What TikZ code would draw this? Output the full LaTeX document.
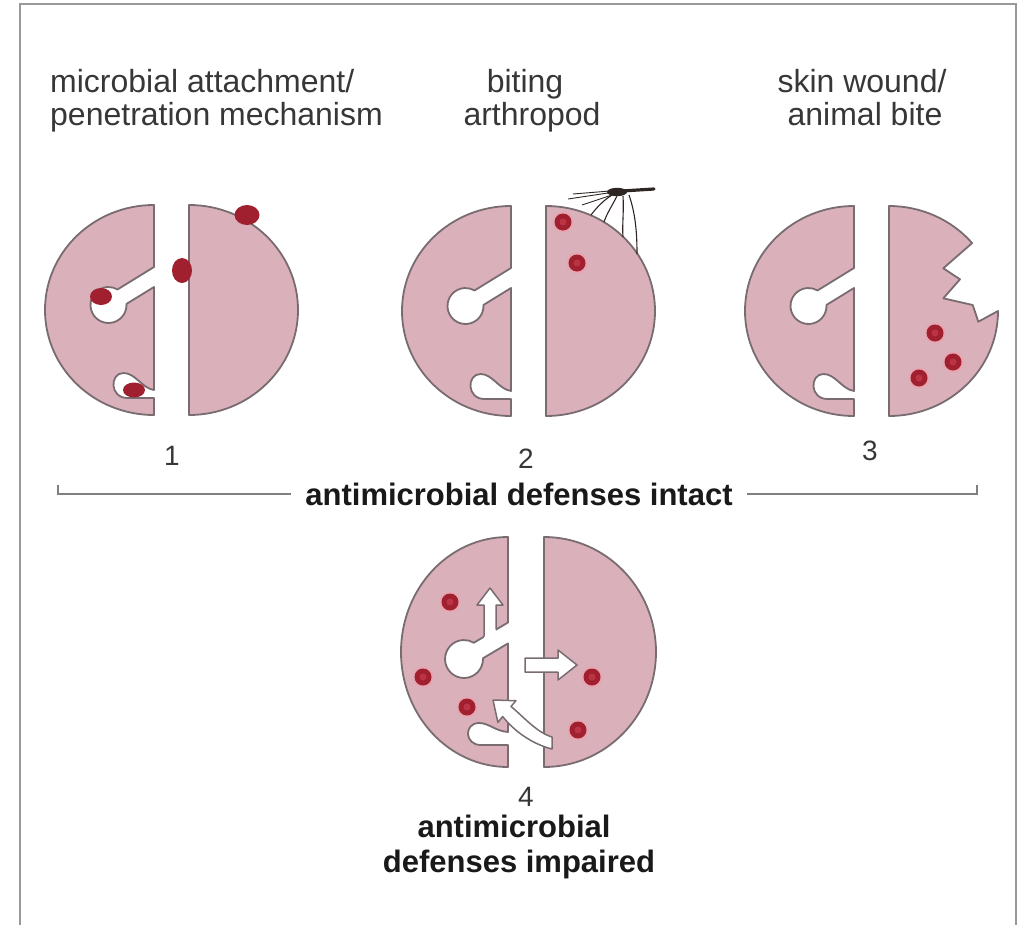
\documentclass[tikz,border=0pt]{standalone}
\usepackage{fontspec}
\setmainfont{Liberation Sans}

\definecolor{skinpink}{RGB}{218,176,187}
\definecolor{rimgray}{RGB}{120,108,113}
\definecolor{germred}{RGB}{160,32,48}
\definecolor{germcore}{RGB}{188,52,68}
\definecolor{germhalo}{RGB}{230,165,176}
\definecolor{inkgray}{RGB}{55,55,55}
\definecolor{insect}{RGB}{45,38,35}

\tikzset{
  skin/.style={fill=skinpink, draw=rimgray, line width=1.8, line join=round},
  openarrow/.style={fill=white, draw=rimgray, line width=1.5, line join=round},
  caption/.style={font=\fontsize{32}{36}\selectfont, text=inkgray, inner sep=0},
  heading/.style={font=\fontsize{31}{36}\selectfont\bfseries, text=black!90, inner sep=0},
  number/.style={font=\fontsize{28}{32}\selectfont, text=inkgray, inner sep=0},
  bracket/.style={draw=gray, line width=1.4},
}

\begin{document}
\begin{tikzpicture}[x=1pt, y=-1pt]
    \useasboundingbox (0,0) rectangle (1025,924);
    % Outer frame
    \draw[black!40, line width=2.4] (20,930) -- (20,4) -- (1016,4) -- (1016,930);

    % Left halves of the three intact tissues, with keyhole and notch
    \foreach \cx/\cy in {171.5/310, 528.5/311, 871.5/311}
        \draw[skin, shift={(\cx,\cy)}] (-17.5,-105)
            arc[start angle=-90, end angle=-270, x radius=109, y radius=105]
            -- (-17.5,88) -- (-44,88) .. controls (-62,88) and (-62,63) .. (-48,63)
            .. controls (-36,63) and (-30,78) .. (-17.5,80)
            -- (-17.5,-23) -- (-45.03,-6.07) arc[start angle=-3.4, end angle=300.2, radius=18]
            -- (-17.5,-43) -- cycle;

    % Right halves, plain
    \foreach \cx/\cy in {171.5/310, 528.5/311}
        \draw[skin, shift={(\cx,\cy)}] (17.5,-105)
            arc[start angle=-90, end angle=90, x radius=109, y radius=105] -- cycle;

    % Right half with the wound
    \draw[skin, shift={(871.5,311)}] (17.5,-105)
        arc[start angle=-90, end angle=-40.3, x radius=109, y radius=105]
        -- (71.8,-42.7) -- (88.5,-31.7) -- (71.8,-12.7) -- (101.2,-6) -- (106.8,10.7) -- (126.5,0)
        arc[start angle=0, end angle=90, x radius=109, y radius=105] -- cycle;

    % Tissue with impaired defenses
    \begin{scope}[shift={(526,652)}]
        \draw[skin] (-18,-115)
            arc[start angle=-90, end angle=-270, x radius=107, y radius=115]
            -- (-18,93) -- (-45,93) .. controls (-62,93) and (-62,71) .. (-47,71)
            .. controls (-37,71) and (-31,79) .. (-18,80)
            -- (-18,-8.6) -- (-43,6.24) arc[start angle=-2.3, end angle=301.1, radius=19]
            -- (-18,-29.5) -- cycle;
        \draw[skin] (18,-115)
            arc[start angle=-90, end angle=90, x radius=112, y radius=115] -- cycle;
    \end{scope}

    % Microbes attaching in panel 1
    \fill[germred] (101,296.5) ellipse (11 and 8.5);
    \fill[germred] (134,390) ellipse (11 and 7.5);
    \fill[germred] (182,270.5) ellipse (10 and 12.5);
    \fill[germred] (247,215) ellipse (12.5 and 10);

    % Microbes that got inside
    \foreach \x/\y in {563/222, 577/263, 935/333, 953/362, 919/378,
                       450/602, 423/677, 467/707, 592/677, 578/730} {
        \fill[germhalo] (\x,\y) circle (10.5);
        \fill[germred] (\x,\y) circle (8.5);
        \fill[germcore] (\x,\y) circle (3.5);
    }

    % Mosquito on the skin
    \fill[insect] (617,192) ellipse (10 and 4.2);
    \draw[insect, line width=3.2, line cap=round] (622,191) -- (654,189);
    \draw[insect, line width=0.9] (608,193) -- (568,199) (610,191) -- (573,194) (612,195) -- (582,205);
    \draw[insect, line width=1.1]
        (612,195) .. controls (604,200) and (597,207) .. (591,215)
        (617,196) .. controls (612,206) and (607,213) .. (604,222)
        (623,196) .. controls (624,212) and (622,226) .. (623,237)
        (629,195) .. controls (636,215) and (637,236) .. (637,254);

    % Spread arrows in panel 4
    \begin{scope}[shift={(526,652)}]
        \fill[white] (-42,-10) -- (-42,-47) -- (-49,-47) -- (-36,-64) -- (-23,-47) -- (-30,-47) -- (-30,-10) -- cycle;
        \draw[openarrow, fill=none] (-42,-15.3) -- (-42,-47) -- (-49,-47) -- (-36,-64) -- (-23,-47) -- (-30,-47) -- (-30,-22.4);
        \draw[openarrow] (-1,6) -- (32,6) -- (32,-2) -- (51,13) -- (32,28) -- (32,20) -- (-1,20) -- cycle;
        \draw[openarrow] (26,85) .. controls (10,80) and (-2,65) .. (-15,54.5) -- (-10.1,48.7) -- (-33,48)
            -- (-28.1,70.3) -- (-23.3,64.5) .. controls (-12,79) and (6,92) .. (26,97) -- cycle;
    \end{scope}

    % Labels above the tissues
    \node[caption, anchor=base west] (attach) at (50,92) {microbial attachment/};
    \node[caption, anchor=base west] (penetr) at (50,125) {penetration mechanism};
    \node[caption, anchor=base] (biting) at (525,92) {biting};
    \node[caption, anchor=base] (arthro) at (532,125) {arthropod};
    \node[caption, anchor=base] (wound) at (862,92) {skin wound/};
    \node[caption, anchor=base] (bite) at (865,125) {animal bite};

    % Panel numbers
    \node[number, anchor=base] (num1) at (172,465) {1};
    \node[number, anchor=base] (num2) at (526,468) {2};
    \node[number, anchor=base] (num3) at (870,460) {3};
    \node[number, anchor=base] (num4) at (526,806) {4};

    % Bracket under the intact ones
    \node[heading, anchor=base] (intact) at (519,505) {antimicrobial defenses intact};
    \coordinate (brL) at (58,485);
    \coordinate (brR) at (977,485);
    \draw[bracket] (brL) |- ([xshift=-14pt]intact.west);
    \draw[bracket] ([xshift=14pt]intact.east) -| (brR);

    \node[heading, anchor=base] (impair) at (514,837) {antimicrobial};
    \node[heading, anchor=base] (impairb) at (519,872) {defenses impaired};
\end{tikzpicture}
\end{document}
